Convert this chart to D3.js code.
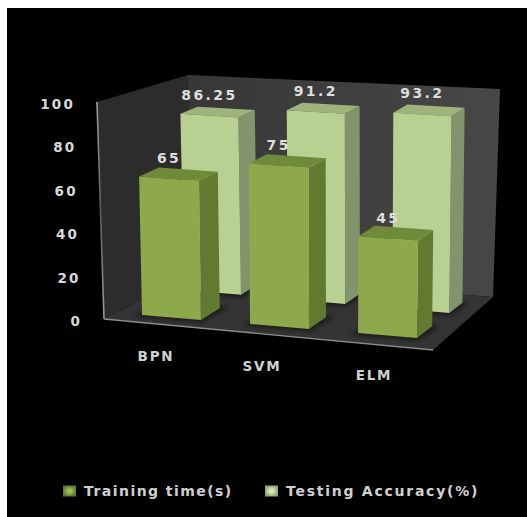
<!DOCTYPE html>
<html>
<head>
<meta charset="utf-8">
<script src="https://cdn.jsdelivr.net/npm/d3@7/dist/d3.min.js"></script>
<style>
  html, body { margin: 0; padding: 0; background: #fff; }
  svg { display: block; }
  text { font-family: "DejaVu Sans", sans-serif; font-weight: bold; }
</style>
</head>
<body>
<svg id="chart" width="527" height="517"></svg>
<script>
// Chart data
const categories = ["BPN", "SVM", "ELM"];
const seriesNames = ["Training time(s)", "Testing Accuracy(%)"];
const trainingTime = [65, 75, 45];
const testingAccuracy = [86.25, 91.2, 93.2];
const tickValues = [0, 20, 40, 60, 80, 100];

const series = [
  { name: seriesNames[0], values: trainingTime, front: "#8ea94b", side: "#617a30", top: "#6f8b39", glow: "#9dbb55", rim: "#5f7a2c" },
  { name: seriesNames[1], values: testingAccuracy, front: "#b8d092", side: "#83946c", top: "#9fb37c", glow: "#d6e8ba", rim: "#8fa570" }
];

const svg = d3.select("#chart");
svg.append("rect").attr("x", 7).attr("y", 8).attr("width", 520).attr("height", 509).attr("fill", "#000");

const defs = svg.append("defs");
defs.append("filter").attr("id", "soft").attr("x", "-30%").attr("y", "-30%").attr("width", "160%").attr("height", "160%")
  .append("feGaussianBlur").attr("stdDeviation", 2.5);
const wallGrad = defs.append("linearGradient").attr("id", "wallGrad");
wallGrad.append("stop").attr("offset", "0").attr("stop-color", "#373737");
wallGrad.append("stop").attr("offset", "1").attr("stop-color", "#474747");
const axisGrad = defs.append("linearGradient").attr("id", "axisGrad")
  .attr("gradientUnits", "userSpaceOnUse").attr("x1", 0).attr("x2", 0).attr("y1", 102).attr("y2", 319);
axisGrad.append("stop").attr("offset", "0").attr("stop-color", "#a0a0a0");
axisGrad.append("stop").attr("offset", "0.5").attr("stop-color", "#5c5c5c");
axisGrad.append("stop").attr("offset", "1").attr("stop-color", "#9a9a9a");
series.forEach((s, i) => {
  const g = defs.append("radialGradient").attr("id", "swatch" + i);
  g.append("stop").attr("offset", "0.3").attr("stop-color", s.glow);
  g.append("stop").attr("offset", "1").attr("stop-color", s.rim);
});

// Scales: category position along the floor, series depth, and value height
const xBand = d3.scaleBand().domain(categories).range([0, 0.977]).paddingInner(0.4545).paddingOuter(0.19);
const depthBand = d3.scaleBand().domain(seriesNames).range([0, 3]).paddingInner(0.5);
const depthToFloor = d3.scaleLinear().domain([0, 1, 2, 3]).range([0, 0.333, 0.71, 1]);
const valueScale = d3.scaleLinear().domain([0, 100]).range([0, 100]);

// Perspective frame of the plot: floor quad plus per-unit rise at its corners
const lerp = (a, b, t) => a + (b - a) * t;
const floorQuad = { nearL: [121.5, 313.3], nearR: [445, 340.3], farL: [182, 278], farR: [489, 305] };
const riseX = { left: -0.05, right: 0.03 };
const riseY = { nearL: 2.13, nearR: 2.16, farL: 2.0, farR: 2.1 };

function project(t, w, v) {
  const d = depthToFloor(w);
  const bx = lerp(lerp(floorQuad.nearL[0], floorQuad.nearR[0], t), lerp(floorQuad.farL[0], floorQuad.farR[0], t), d);
  const by = lerp(lerp(floorQuad.nearL[1], floorQuad.nearR[1], t), lerp(floorQuad.farL[1], floorQuad.farR[1], t), d);
  const h = valueScale(v);
  const kx = lerp(riseX.left, riseX.right, t);
  const ky = lerp(lerp(riseY.nearL, riseY.nearR, t), lerp(riseY.farL, riseY.farR, t), d);
  return [bx + kx * h, by - ky * h];
}

// Walls and floor
const wallCorners = {
  frontLeftTop: [97, 102], frontLeftBottom: [104, 319],
  backLeftTop: [188, 75], backLeftBottom: [190, 274],
  backRightTop: [500, 89], backRightBottom: [493, 297],
  frontRightBottom: [433, 350]
};
const c = wallCorners;
const poly = pts => "M" + pts.map(p => p.join(",")).join("L") + "Z";
svg.append("path").attr("d", poly([c.frontLeftTop, c.backLeftTop, c.backLeftBottom, c.frontLeftBottom])).attr("fill", "#2c2c2c");
svg.append("path").attr("d", poly([c.backLeftTop, c.backRightTop, c.backRightBottom, c.backLeftBottom])).attr("fill", "url(#wallGrad)");
svg.append("path").attr("d", poly([c.frontLeftBottom, c.backLeftBottom, c.backRightBottom, c.frontRightBottom])).attr("fill", "#343434");

// Axis lines along the front of the left wall and the floor
svg.append("line").attr("x1", c.frontLeftTop[0]).attr("y1", c.frontLeftTop[1])
  .attr("x2", c.frontLeftBottom[0]).attr("y2", c.frontLeftBottom[1])
  .attr("stroke", "url(#axisGrad)").attr("stroke-width", 1.6);
svg.append("line").attr("x1", c.frontLeftBottom[0]).attr("y1", c.frontLeftBottom[1])
  .attr("x2", c.frontRightBottom[0]).attr("y2", c.frontRightBottom[1])
  .attr("stroke", "#8c8c8c").attr("stroke-width", 1.4);

// Value axis labels follow the slanted front edge
const tickY = d3.scaleLinear().domain([0, 100]).range([321, 104]);
const tickRight = d3.scaleLinear().domain([0, 100]).range([82, 75]);
svg.append("g").selectAll("text").data(tickValues).join("text")
  .attr("x", d => tickRight(d))
  .attr("y", d => tickY(d))
  .attr("text-anchor", "end")
  .attr("dominant-baseline", "central")
  .attr("font-size", 13.5)
  .attr("letter-spacing", 2.2)
  .attr("fill", "#d8d8d8")
  .text(d => d);

// Bars, far series first so the near series overlaps it
const barLayer = svg.append("g");
[series[1], series[0]].forEach(s => {
  const w0 = depthBand(s.name), w1 = w0 + depthBand.bandwidth();
  categories.forEach((cat, i) => {
    const t0 = xBand(cat), t1 = t0 + xBand.bandwidth();
    const v = s.values[i];
    const g = barLayer.append("g");
    g.append("path")
      .attr("d", poly([project(t0 - 0.015, w0 - 0.15, 0), project(t1 + 0.01, w0 - 0.15, 0), project(t1 + 0.02, Math.min(w1 + 0.1, 3), 0), project(t0, Math.min(w1 + 0.1, 3), 0)]))
      .attr("fill", "#000").attr("opacity", 0.55).attr("filter", "url(#soft)");
    g.append("path").attr("fill", s.side)
      .attr("d", poly([project(t1, w0, 0), project(t1, w1, 0), project(t1, w1, v), project(t1, w0, v)]));
    g.append("path").attr("fill", s.top)
      .attr("d", poly([project(t0, w0, v), project(t1, w0, v), project(t1, w1, v), project(t0, w1, v)]));
    g.append("path").attr("fill", s.front)
      .attr("d", poly([project(t0, w0, 0), project(t1, w0, 0), project(t1, w0, v), project(t0, w0, v)]));
  });
});

// Value labels above each bar
series.forEach(s => {
  const w0 = depthBand(s.name);
  categories.forEach((cat, i) => {
    const v = s.values[i];
    const p = project(xBand(cat) + xBand.bandwidth() / 2, w0, v);
    svg.append("text")
      .attr("x", p[0]).attr("y", p[1] - 21)
      .attr("text-anchor", "middle")
      .attr("dominant-baseline", "central")
      .attr("font-size", 14)
      .attr("letter-spacing", 2.4)
      .attr("fill", "#dedede")
      .text(v);
  });
});

// Category labels
const catY = d3.scaleOrdinal().domain(categories).range([356, 366, 375]);
const catX = d3.scaleOrdinal().domain(categories).range([156, 262, 374]);
svg.append("g").selectAll("text").data(categories).join("text")
  .attr("x", d => catX(d)).attr("y", d => catY(d))
  .attr("text-anchor", "middle")
  .attr("dominant-baseline", "central")
  .attr("font-size", 13.5)
  .attr("letter-spacing", 1.8)
  .attr("fill", "#d0d0d0")
  .text(d => d);

// Legend
const legendX = [63, 265];
const legendSpacing = [1.45, 1.75];
series.forEach((s, i) => {
  const g = svg.append("g").attr("transform", `translate(${legendX[i]},491)`);
  g.append("rect").attr("x", 0).attr("y", -5.5).attr("width", 13).attr("height", 11)
    .attr("fill", `url(#swatch${i})`);
  g.append("text").attr("x", 21).attr("y", 0)
    .attr("dominant-baseline", "central")
    .attr("font-size", 14)
    .attr("letter-spacing", legendSpacing[i])
    .attr("fill", "#d0d0d0")
    .text(s.name);
});
</script>
</body>
</html>
